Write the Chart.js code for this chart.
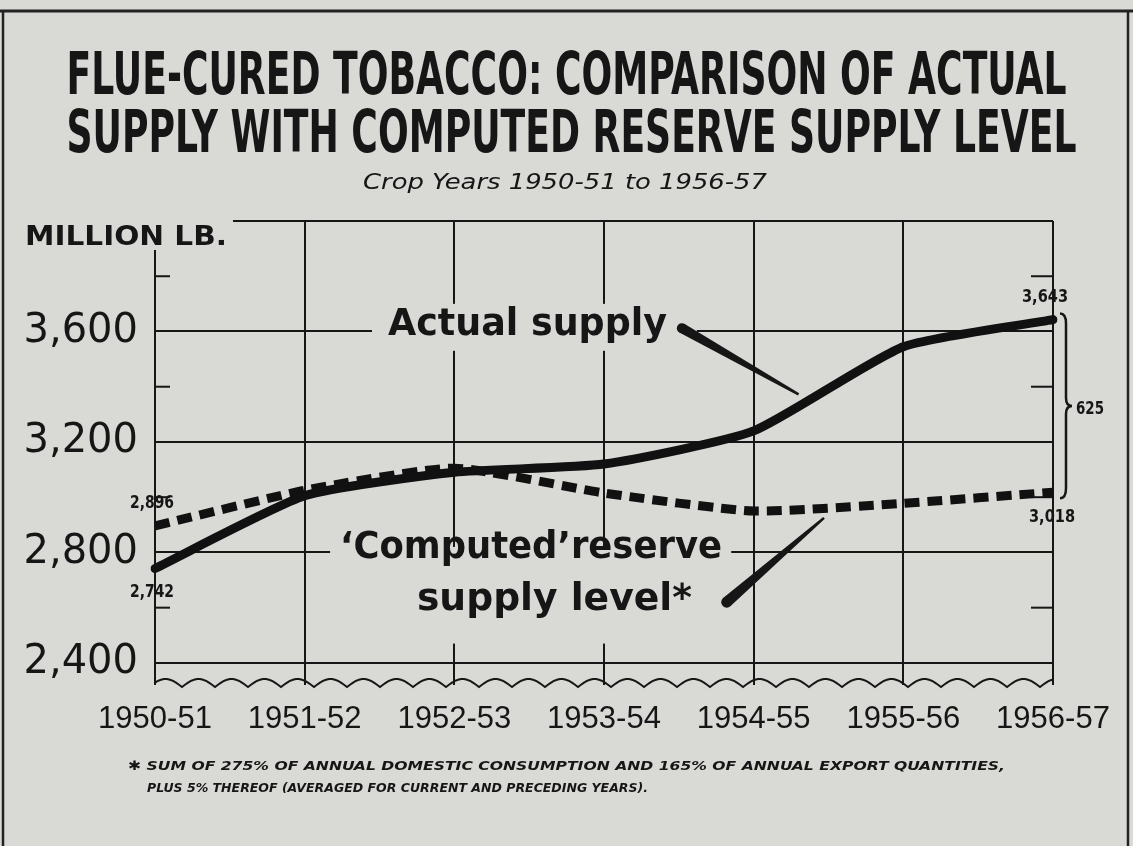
<!DOCTYPE html>
<html><head><meta charset="utf-8">
<script src="https://cdn.jsdelivr.net/npm/chart.js@4.4.1/dist/chart.umd.min.js"></script>
<style>html,body{margin:0;padding:0;background:#d9d9d6;} canvas{display:block}</style>
</head><body>
<canvas id="c" width="1133" height="846"></canvas>
<script>
// ---- data ----
const categories = ['1950-51','1951-52','1952-53','1953-54','1954-55','1955-56','1956-57'];
const actualSupply = [2742, 3005, 3090, 3120, 3240, 3545, 3643];
const computedReserve = [2896, 3025, 3105, 3015, 2950, 2978, 3018];
const yTickLabels = [2400, 2800, 3200, 3600];
const yMinorTicks = [2600, 3000, 3400, 3800];
const yMin = 2320, yMax = 4000;
const titleLines = ['FLUE-CURED TOBACCO: COMPARISON OF ACTUAL', 'SUPPLY WITH COMPUTED RESERVE SUPPLY LEVEL'];
const subtitle = 'Crop Years 1950-51 to 1956-57';
const unitLabel = 'MILLION LB.';
const footnote = ['\u2731 SUM OF 275% OF ANNUAL DOMESTIC CONSUMPTION AND 165% OF ANNUAL EXPORT QUANTITIES,',
                  'PLUS 5% THEREOF (AVERAGED FOR CURRENT AND PRECEDING YEARS).'];

const INK = '#161616', PAPER = '#d9d9d6';
const COND = '"Liberation Sans Narrow","DejaVu Sans Condensed","DejaVu Sans",sans-serif';
const SANS = '"DejaVu Sans",sans-serif';

function fitText(ctx, text, x, y, width, align) {
  const w = ctx.measureText(text).width;
  ctx.save();
  ctx.translate(x, y);
  ctx.scale(width / w, 1);
  ctx.textAlign = 'left';
  let x0 = 0;
  if (align === 'center') x0 = -w / 2;
  else if (align === 'right') x0 = -w;
  ctx.fillText(text, x0, 0);
  ctx.restore();
}
function wedge(ctx, x0, y0, x1, y1, w0, w1) {
  const dx = x1 - x0, dy = y1 - y0, L = Math.hypot(dx, dy);
  const nx = -dy / L, ny = dx / L;
  ctx.beginPath();
  ctx.moveTo(x0 + nx * w0 / 2, y0 + ny * w0 / 2);
  ctx.lineTo(x1 + nx * w1 / 2, y1 + ny * w1 / 2);
  ctx.lineTo(x1 - nx * w1 / 2, y1 - ny * w1 / 2);
  ctx.lineTo(x0 - nx * w0 / 2, y0 - ny * w0 / 2);
  ctx.closePath();
  ctx.fill();
  ctx.beginPath(); ctx.arc(x0, y0, w0 / 2, 0, Math.PI * 2); ctx.fill();
}

const decor = {
  id: 'decor',
  beforeDraw(chart) {
    const ctx = chart.ctx, W = chart.width, H = chart.height;
    ctx.save();
    ctx.fillStyle = PAPER; ctx.fillRect(0, 0, W, H);
    ctx.strokeStyle = '#222'; ctx.lineWidth = 3;
    ctx.beginPath(); ctx.moveTo(0, 11); ctx.lineTo(W, 11); ctx.stroke();
    ctx.lineWidth = 2.5;
    ctx.beginPath(); ctx.moveTo(3, 11); ctx.lineTo(3, H); ctx.stroke();
    ctx.beginPath(); ctx.moveTo(W - 5, 11); ctx.lineTo(W - 5, H); ctx.stroke();
    ctx.restore();
  },
  beforeDatasetsDraw(chart) {
    const ctx = chart.ctx, a = chart.chartArea, ys = chart.scales.y, xs = chart.scales.x;
    const P = (i, v) => [xs.getPixelForValue(i), ys.getPixelForValue(v)];
    ctx.save();
    ctx.strokeStyle = INK; ctx.lineWidth = 2;
    // left axis (open at top-left corner)
    ctx.beginPath(); ctx.moveTo(a.left, a.top + 29); ctx.lineTo(a.left, a.bottom); ctx.stroke();
    // top border
    ctx.beginPath(); ctx.moveTo(a.left + 78, a.top); ctx.lineTo(a.right, a.top); ctx.stroke();
    // minor ticks
    yMinorTicks.forEach(v => {
      const y = ys.getPixelForValue(v);
      ctx.beginPath(); ctx.moveTo(a.left, y); ctx.lineTo(a.left + 15, y); ctx.stroke();
      ctx.beginPath(); ctx.moveTo(a.right - 22, y); ctx.lineTo(a.right, y); ctx.stroke();
    });
    // scalloped broken baseline
    ctx.beginPath();
    for (let x = a.left; x <= a.right; x += 1) {
      const y = a.bottom + 2 - 8 * Math.abs(Math.sin((x - a.left + 6) / 33 * Math.PI));
      if (x === a.left) ctx.moveTo(x, y); else ctx.lineTo(x, y);
    }
    ctx.stroke();
    // paper boxes behind annotation text (break grid lines)
    ctx.fillStyle = PAPER;
    let [x1, y1] = P(1.45, 3700); let [x2, y2] = P(3.62, 3530);
    ctx.fillRect(x1, y1, x2 - x1, y2 - y1);
    [x1, y1] = P(1.17, 2820); [x2, y2] = P(3.85, 2470);
    ctx.fillRect(x1, y1, x2 - x1, y2 - y1);
    ctx.restore();
  },
  afterDatasetsDraw(chart) {
    const ctx = chart.ctx, a = chart.chartArea, ys = chart.scales.y, xs = chart.scales.x;
    const P = (i, v) => [xs.getPixelForValue(i), ys.getPixelForValue(v)];
    const W = chart.width;
    ctx.save();
    ctx.fillStyle = INK;
    ctx.textBaseline = 'alphabetic';
    // title
    ctx.font = 'bold 58px ' + COND;
    fitText(ctx, titleLines[0], W / 2, 94, 1000, 'center');
    fitText(ctx, titleLines[1], W / 2 + 5, 152, 1010, 'center');
    ctx.font = 'italic 22px ' + COND;
    fitText(ctx, subtitle, 565, 189, 404, 'center');
    // unit
    ctx.font = 'bold 27px ' + SANS;
    fitText(ctx, unitLabel, 25, 245, 202, 'left');
    // annotations
    ctx.font = 'bold 37px ' + SANS;
    let [tx, ty] = P(1.557, 3587);
    fitText(ctx, 'Actual supply', tx, ty, 279, 'left');
    [tx, ty] = P(1.236, 2780);
    fitText(ctx, '\u2018Computed\u2019reserve', tx, ty, 382, 'left');
    [tx, ty] = P(1.75, 2592);
    fitText(ctx, 'supply level*', tx, ty, 275, 'left');
    // pointers
    let [px0, py0] = P(3.52, 3612), [px1, py1] = P(4.3, 3372);
    wedge(ctx, px0, py0, px1, py1, 10, 2.5);
    [px0, py0] = P(3.82, 2620); [px1, py1] = P(4.47, 2925);
    wedge(ctx, px0, py0, px1, py1, 11, 2.5);
    // value labels
    ctx.font = 'bold 18px ' + COND;
    let [lx, ly] = P(0, computedReserve[0]);
    fitText(ctx, computedReserve[0].toLocaleString('en-US'), lx - 3, ly - 18, 44, 'center');
    [lx, ly] = P(0, actualSupply[0]);
    fitText(ctx, actualSupply[0].toLocaleString('en-US'), lx - 3, ly + 29, 44, 'center');
    [lx, ly] = P(6, actualSupply[6]);
    fitText(ctx, actualSupply[6].toLocaleString('en-US'), lx - 8, ly - 18, 46, 'center');
    [lx, ly] = P(6, computedReserve[6]);
    fitText(ctx, computedReserve[6].toLocaleString('en-US'), lx - 1, ly + 30, 46, 'center');
    // bracket and difference
    const bx = a.right + 13;
    const yTop = ys.getPixelForValue(actualSupply[6]) - 6, yBot = ys.getPixelForValue(computedReserve[6]) + 6;
    const yMid = (yTop + yBot) / 2;
    ctx.strokeStyle = INK; ctx.lineWidth = 2.5;
    ctx.beginPath();
    ctx.moveTo(bx - 6, yTop);
    ctx.quadraticCurveTo(bx, yTop, bx, yTop + 10);
    ctx.lineTo(bx, yMid - 8);
    ctx.quadraticCurveTo(bx, yMid, bx + 6, yMid);
    ctx.quadraticCurveTo(bx, yMid, bx, yMid + 8);
    ctx.lineTo(bx, yBot - 10);
    ctx.quadraticCurveTo(bx, yBot, bx - 6, yBot);
    ctx.stroke();
    ctx.font = 'bold 18px ' + COND;
    fitText(ctx, String(actualSupply[6] - computedReserve[6]), bx + 10, yMid + 8, 28, 'left');
    // footnote
    ctx.font = 'italic bold 13px ' + COND;
    fitText(ctx, footnote[0], 128, 770, 877, 'left');
    fitText(ctx, footnote[1], 147, 792, 501, 'left');
    ctx.restore();
  }
};

new Chart(document.getElementById('c'), {
  type: 'line',
  data: {
    labels: categories,
    datasets: [
      { label: 'Actual supply', data: actualSupply, borderColor: '#111', borderWidth: 9,
        pointRadius: 0, tension: 0.18, borderCapStyle: 'round', borderJoinStyle: 'round', fill: false },
      { label: "'Computed' reserve supply level", data: computedReserve, borderColor: '#111', borderWidth: 9,
        borderDash: [15, 8], pointRadius: 0, tension: 0.18, borderCapStyle: 'butt', fill: false }
    ]
  },
  options: {
    responsive: false,
    animation: false,
    devicePixelRatio: 1,
    layout: { padding: { left: 0, top: 221, right: 80, bottom: 0 } },
    plugins: { legend: { display: false }, title: { display: false }, tooltip: { enabled: false } },
    scales: {
      x: {
        type: 'category',
        offset: false,
        grid: { display: true, drawTicks: false, lineWidth: 2,
                color: ctx => ctx.index === 0 ? 'rgba(0,0,0,0)' : INK },
        border: { display: false },
        ticks: { color: INK, font: { family: '"Liberation Sans", Arial, sans-serif', size: 31 },
                 padding: 16, maxRotation: 0, autoSkip: false },
        afterFit: s => { s.height = 161; }
      },
      y: {
        min: yMin, max: yMax,
        afterBuildTicks: s => { s.ticks = yTickLabels.map(v => ({ value: v })); },
        grid: { display: true, drawTicks: false, lineWidth: 2, color: INK },
        border: { display: false },
        ticks: { color: INK, font: { family: SANS, size: 40 }, padding: 17,
                 callback: v => Number(v).toLocaleString('en-US') },
        afterFit: s => { s.width = 155; }
      }
    }
  },
  plugins: [decor]
});
</script>
</body></html>
